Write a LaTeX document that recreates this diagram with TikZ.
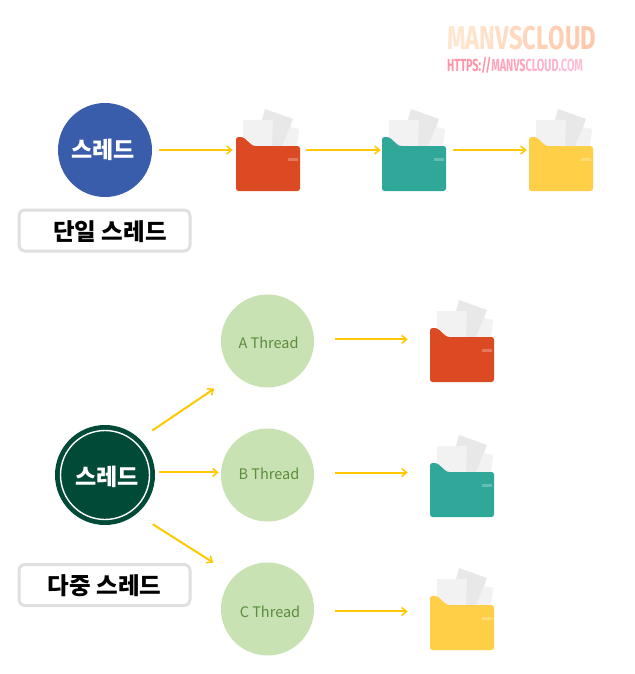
\documentclass[tikz,border=0pt]{standalone}
\usepackage{fontspec}
\usetikzlibrary{arrows.meta}
\setmainfont{Noto Sans CJK KR}
\newfontfamily\logofont{Fira Sans}[FakeStretch=0.72]
\newfontfamily\urlfont{Fira Sans}[FakeStretch=0.62]
\definecolor{cblue}{HTML}{3A5DAB}
\definecolor{cdark}{HTML}{014A38}
\definecolor{cleaf}{HTML}{C9E2B3}
\definecolor{cleaftext}{HTML}{5A8C3C}
\definecolor{cred}{HTML}{DC4A23}
\definecolor{cteal}{HTML}{2FA89A}
\definecolor{cyellow}{HTML}{FFCF47}
\definecolor{carrow}{HTML}{FFC800}
\definecolor{cbox}{HTML}{E0E0E0}
\definecolor{cpaperA}{HTML}{E8E8E8}
\definecolor{cpaperB}{HTML}{F2F2F2}
\tikzset{
  x=1pt,y=-1pt,
  arr/.style={draw=carrow,line width=2pt,-{Straight Barb[length=5pt,width=8pt,line width=1.5pt]}},
  mainthread/.style={circle,minimum size=#1,inner sep=0pt},
  mainlabel/.style={inner sep=0pt,text=white,font=\fontsize{23}{24}\selectfont\bfseries},
  workthread/.style={circle,fill=cleaf,minimum size=93pt,inner sep=0pt},
  worklabel/.style={inner sep=0pt,text=cleaftext,font=\fontsize{14.5}{15}\selectfont},
  labelbox/.style={draw=cbox,line width=3pt,rounded corners=6pt,fill=white,minimum width=171pt,minimum height=41pt,inner sep=0pt},
  boxlabel/.style={inner sep=0pt,text=black,font=\fontsize{23.5}{24}\selectfont\bfseries},
  folderframe/.style={minimum width=64pt,minimum height=54pt,inner sep=0pt,draw=none},
}
% #1 name, #2 left, #3 top, #4 colour
\newcommand{\folderat}[4]{%
  \begin{scope}[shift={(#2,#3)}]
    \fill[cpaperA] (29,-28) -- (57,-18) -- (47,9) -- (19,9) -- cycle;
    \fill[cpaperB] (54,-10) -- (63,-8) -- (61,9) -- (46,9) -- cycle;
    \fill[cpaperB] (7,-17) -- (37,-17) -- (36,9) -- (7,9) -- cycle;
    \fill[#4,rounded corners=2.5pt] (0,54) -- (0,0) -- (7,0) -- (17,9) -- (64,9) -- (64,54) -- cycle;
    \fill[white,opacity=.25] (52,21) rectangle (62,24);
    \node[folderframe] (#1) at (32,27) {};
  \end{scope}}
\begin{document}
\begin{tikzpicture}
\useasboundingbox (0,0) rectangle (634,674);
\fill[white] (0,0) rectangle (634,674);

% logo
\node[anchor=base west,inner sep=0pt,font=\logofont\bfseries\fontsize{33}{33}\selectfont] (logo) at (447,50)
  {\textcolor[HTML]{FFE6CF}{M}\textcolor[HTML]{FFE3CB}{A}\textcolor[HTML]{FFE0C8}{N}\textcolor[HTML]{FFDDC4}{V}\textcolor[HTML]{FFDAC0}{S}\textcolor[HTML]{FFD6BC}{C}\textcolor[HTML]{FFD2B8}{L}\textcolor[HTML]{FFCFB4}{O}\textcolor[HTML]{FFCBB0}{U}\textcolor[HTML]{FFC8AC}{D}};
\node[anchor=base west,inner sep=0pt,font=\urlfont\bfseries\fontsize{17.5}{18}\selectfont] (url) at (447,72)
  {\textcolor[HTML]{FF94A6}{HTTPS://}\textcolor[HTML]{FFA4BA}{MANVS}\textcolor[HTML]{FFB0C8}{CLOUD}\textcolor[HTML]{FFBCD6}{.COM}};

% single thread
\node[mainthread=94pt,fill=cblue] (t1) at (105,150) {};
\node[mainlabel] (t1text) at (103,150) {스레드};
\folderat{f1}{236}{137}{cred}
\folderat{f2}{382}{137}{cteal}
\folderat{f3}{529}{137}{cyellow}
\node[labelbox] (lab1) at (104.5,230.5) {};
\node[boxlabel] (lab1text) at (110,232) {단일 스레드};
\draw[arr,shorten <=7pt,shorten >=3pt] (t1.east) -- (t1.east -| f1.west);
\draw[arr,shorten <=6pt,shorten >=1pt] (t1.east -| f1.east) -- (t1.east -| f2.west);
\draw[arr,shorten <=7pt,shorten >=2pt] (t1.east -| f2.east) -- (t1.east -| f3.west);

% multiple threads
\node[mainthread=100pt,fill=cdark] (m) at (105,475) {};
\node[mainlabel] (mtext) at (107,477) {스레드};
\draw[white,line width=1.4pt] (m.center) circle (44.5);
\node[workthread] (a) at (267.5,341) {};
\node[worklabel] (atext) at (268.5,343) {A Thread};
\node[workthread] (b) at (267.5,475) {};
\node[worklabel] (btext) at (269,474) {B Thread};
\node[workthread] (c) at (267.5,609) {};
\node[worklabel] (ctext) at (270,612) {C Thread};
\folderat{f4}{430}{328}{cred}
\folderat{f5}{430}{463}{cteal}
\folderat{f6}{430}{596}{cyellow}
\node[labelbox] (lab2) at (104.5,585) {};
\node[boxlabel] (lab2text) at (104.5,586) {다중 스레드};
\draw[arr,shorten <=15pt,shorten >=25pt] (m.46) -- (a.226);
\draw[arr,shorten <=4pt,shorten >=2pt] (m.3.4) -- (m.3.4 -| b.west);
\draw[arr,shorten <=19pt,shorten >=25pt] (m.-51.5) -- (c.135);
\draw[arr,shorten <=21pt,shorten >=22pt] (a.2.5) -- (a.2.5 -| f4.west);
\draw[arr,shorten <=21pt,shorten >=22pt] (b.3.7) -- (b.3.7 -| f5.west);
\draw[arr,shorten <=21pt,shorten >=22pt] (c.-3.7) -- (c.-3.7 -| f6.west);
\end{tikzpicture}
\end{document}
